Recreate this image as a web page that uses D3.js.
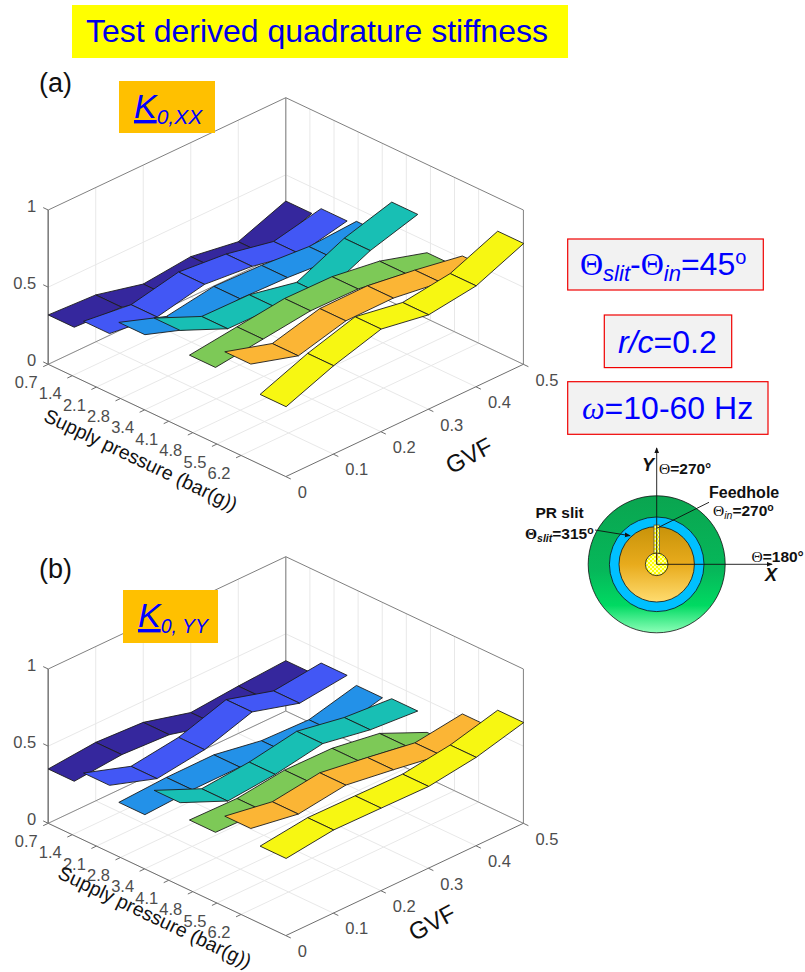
<!DOCTYPE html>
<html>
<head>
<meta charset="utf-8">
<script src="https://cdn.jsdelivr.net/npm/d3@7"></script>
<style>
    body { margin: 0; background: #fff; }
    text { font-family: "Liberation Sans", Arial, sans-serif; }
</style>
</head>
<body>
<div id="chart-container"></div>
<script>
const pressureTicks = ['0.7', '1.4', '2.1', '2.8', '3.4', '4.1', '4.8', '5.5', '6.2'];
const gvfTicks = [0, 0.1, 0.2, 0.3, 0.4, 0.5];
const zTicks = [0, 0.5, 1];
const ribbonColors = ['#35279d', '#4257f5', '#2391e8', '#18bfb4', '#7dc957', '#fbb535', '#f7f712'];

const kxx = [
    [0.320, 0.304, 0.229, 0.261, 0.212, 0.330],
    [0.387, 0.349, 0.415, 0.386, 0.322, 0.389],
    [0.488, 0.381, 0.430, 0.421, 0.397, 0.415],
    [0.624, 0.489, 0.484, 0.419, 0.559, 0.648],
    [0.492, 0.530, 0.568, 0.564, 0.519, 0.428],
    [0.622, 0.530, 0.611, 0.613, 0.569, 0.515],
    [0.454, 0.574, 0.666, 0.613, 0.655, 0.784]
];

// K0,YY
const kyy = [
    [0.352, 0.379, 0.363, 0.281, 0.307, 0.326],
    [0.434, 0.332, 0.374, 0.473, 0.384, 0.419],
    [0.352, 0.368, 0.369, 0.315, 0.305, 0.382],
    [0.538, 0.403, 0.430, 0.484, 0.428, 0.404],
    [0.454, 0.448, 0.486, 0.482, 0.433, 0.294],
    [0.587, 0.535, 0.577, 0.531, 0.480, 0.522],
    [0.501, 0.540, 0.536, 0.531, 0.574, 0.654]
];

const w = 805;
const h = 972;

const svg = d3.select('#chart-container')
    .append('svg')
    .attr('width', w)
    .attr('height', h)
    .style('display', 'block');

const defs = svg.append('defs');

// 3d axes scales, pressure axis is in tick positions and runs past the last tick
const pScale = d3.scaleLinear().domain([0, 9.857]).range([0, 1]);
const gScale = d3.scaleLinear().domain([0, 0.5]).range([0, 1]);
const zScale = d3.scaleLinear().domain([0, 1]).range([0, 154.3]);
const ribbonScale = d3.scalePoint().domain(d3.range(ribbonColors.length)).range([0, 8.79]);
const ribbonWidth = 1.08;

const halfW = 237.6;
const halfH = 112.3;

const drawPanel = (originY, values, labelX, labelY, gvfX, gvfY) => {
    const x0 = 48.2;
    const project = (p, g, z) => [
        x0 + halfW * (pScale(p) + gScale(g)),
        originY + halfH * (pScale(p) - gScale(g)) - zScale(z)
    ];
    const line = d3.line();
    const pMax = pScale.domain()[1];
    const gMax = gScale.domain()[1];
    const g = svg.append('g');

    const addLine = (pts, color, width) => g.append('path')
        .attr('d', line(pts))
        .attr('fill', 'none')
        .attr('stroke', color)
        .attr('stroke-width', width);

    // grid on floor and walls
    const grid = '#e8e8e8';
    pressureTicks.forEach((t, i) => {
        addLine([project(i, 0, 0), project(i, gMax, 0), project(i, gMax, 1)], grid, 1);
    });
    gvfTicks.forEach(v => {
        addLine([project(0, v, 0), project(pMax, v, 0)], grid, 1);
        addLine([project(0, v, 0), project(0, v, 1)], grid, 1);
    });
    addLine([project(0, 0, 0.5), project(0, gMax, 0.5), project(pMax, gMax, 0.5)], grid, 1);

    // box
    const box = '#808080';
    addLine([project(0, 0, 0), project(0, gMax, 0), project(pMax, gMax, 0)], '#8c8c8c', 1);
    addLine([project(0, gMax, 0), project(0, gMax, 1)], box, 1);
    addLine([project(0, 0, 1), project(0, gMax, 1), project(pMax, gMax, 1)], box, 1);
    addLine([project(pMax, gMax, 0), project(pMax, gMax, 1)], box, 1);
    addLine([project(0, 0, 0), project(0, 0, 1)], box, 1.6);
    addLine([project(0, 0, 0), project(pMax, 0, 0), project(pMax, gMax, 0)], '#6e6e6e', 1);

    // ticks
    pressureTicks.forEach((t, i) => {
        const a = project(i, 0, 0);
        addLine([a, [a[0] - 5, a[1] + 2.4]], '#6e6e6e', 1);
        g.append('text')
            .attr('x', a[0] - 22)
            .attr('y', a[1] + 23.5)
            .attr('text-anchor', 'middle')
            .attr('font-size', 16.5)
            .attr('fill', '#4d4d4d')
            .text(t);
    });
    gvfTicks.forEach(v => {
        const a = project(pMax, v, 0);
        addLine([a, [a[0] + 5, a[1] + 2.4]], '#6e6e6e', 1);
        g.append('text')
            .attr('x', a[0] + 12)
            .attr('y', a[1] + 21.3)
            .attr('font-size', 16.5)
            .attr('fill', '#4d4d4d')
            .text(v);
    });
    zTicks.forEach(v => {
        const a = project(0, 0, v);
        addLine([a, [a[0] - 5, a[1] - 2.4]], '#6e6e6e', 1);
        g.append('text')
            .attr('x', a[0] - 12)
            .attr('y', a[1] + 1.5)
            .attr('text-anchor', 'end')
            .attr('font-size', 16.5)
            .attr('fill', '#4d4d4d')
            .text(v);
    });

    // ribbons, back to front
    values.forEach((row, r) => {
        const p0 = ribbonScale(r);
        const p1 = p0 + ribbonWidth;
        for (let i = gvfTicks.length - 2; i >= 0; i--) {
            const quad = [
                project(p0, gvfTicks[i], row[i]),
                project(p1, gvfTicks[i], row[i]),
                project(p1, gvfTicks[i + 1], row[i + 1]),
                project(p0, gvfTicks[i + 1], row[i + 1])
            ];
            g.append('path')
                .attr('d', line(quad) + 'Z')
                .attr('fill', ribbonColors[r])
                .attr('stroke', '#1c1c1c')
                .attr('stroke-width', 0.9)
                .attr('stroke-linejoin', 'round');
        }
    });

    g.append('text')
        .attr('transform', `translate(${labelX},${labelY}) rotate(25.5)`)
        .attr('text-anchor', 'middle')
        .attr('font-size', 19.5)
        .attr('fill', '#111')
        .text('Supply pressure (bar(g))');

    g.append('text')
        .attr('transform', `translate(${gvfX},${gvfY}) rotate(-28)`)
        .attr('text-anchor', 'middle')
        .attr('font-size', 24)
        .attr('fill', '#111')
        .text('GVF');
};

drawPanel(364.3, kxx, 138, 466, 473, 463);
drawPanel(823.3, kyy, 152, 923, 436, 930);

// title and panel tags
svg.append('rect').attr('x', 72).attr('y', 5).attr('width', 496).attr('height', 53).attr('fill', '#ffff00');
svg.append('text').attr('x', 317).attr('y', 42).attr('text-anchor', 'middle')
    .attr('font-size', 32).attr('fill', '#0000e6')
    .text('Test derived quadrature stiffness');

svg.append('text').attr('x', 39).attr('y', 92).attr('font-size', 27).attr('fill', '#111').text('(a)');
svg.append('text').attr('x', 39).attr('y', 578).attr('font-size', 27).attr('fill', '#111').text('(b)');

const kTag = (x, y, bw, bh, sub, subSize) => {
    svg.append('rect').attr('x', x).attr('y', y).attr('width', bw).attr('height', bh).attr('fill', '#ffc000');
    const t = svg.append('text').attr('x', x + 15).attr('y', y + 37).attr('fill', '#0000ff').attr('font-style', 'italic');
    t.append('tspan').attr('font-size', 34).attr('text-decoration', 'underline').text('K');
    t.append('tspan').attr('font-size', subSize).attr('dy', 6).text(sub);
};
kTag(119, 81, 96, 52, '0,XX', 21);
kTag(123, 590, 95, 53, '0, YY', 19.5);

// parameter boxes
const paramBox = (x, y, bw, bh) => svg.append('rect')
    .attr('x', x).attr('y', y).attr('width', bw).attr('height', bh)
    .attr('fill', '#f2f2f2').attr('stroke', '#f00000').attr('stroke-width', 1.2);
const blueText = (x, y, size) => svg.append('text').attr('x', x).attr('y', y).attr('font-size', size).attr('fill', '#0000ff');
const serif = '"Liberation Serif", serif';

paramBox(567.7, 239, 195.6, 51);
let t1 = blueText(580, 275, 32);
t1.append('tspan').attr('font-family', serif).text('Θ');
t1.append('tspan').attr('font-size', 22).attr('font-style', 'italic').attr('dy', 6).text('slit');
t1.append('tspan').attr('dy', -6).text('-');
t1.append('tspan').attr('font-family', serif).text('Θ');
t1.append('tspan').attr('font-size', 22).attr('font-style', 'italic').attr('dy', 6).text('in');
t1.append('tspan').attr('dy', -6).text('=45');
t1.append('tspan').attr('font-size', 20).attr('dy', -11).text('o');

paramBox(604.3, 315, 127.4, 52.6);
let t2 = blueText(618, 353, 32);
t2.append('tspan').attr('font-style', 'italic').text('r/c');
t2.append('tspan').text('=0.2');

paramBox(567.7, 381.7, 200.3, 52.6);
let t3 = blueText(582, 419, 32);
t3.append('tspan').attr('font-family', serif).attr('font-style', 'italic').text('ω');
t3.append('tspan').text('=10-60 Hz');

// bearing schematic
const addGradient = (id, stops) => {
    const g = defs.append('linearGradient').attr('id', id)
        .attr('x1', 0).attr('y1', 0).attr('x2', 0).attr('y2', 1);
    stops.forEach(s => g.append('stop').attr('offset', s[0]).attr('stop-color', s[1]));
};
addGradient('greenGrad', [[0, '#0aa550'], [0.55, '#06b85a'], [0.8, '#00da62'], [1, '#8dffb8']]);
addGradient('orangeGrad', [[0, '#c8930a'], [0.5, '#e8ab1c'], [1, '#ffdc70']]);

const dots = defs.append('pattern').attr('id', 'dots').attr('width', 4).attr('height', 4)
    .attr('patternUnits', 'userSpaceOnUse');
dots.append('rect').attr('width', 4).attr('height', 4).attr('fill', '#ffff00');
dots.append('circle').attr('cx', 1).attr('cy', 1).attr('r', 1).attr('fill', '#ffffe0');
dots.append('circle').attr('cx', 3).attr('cy', 3).attr('r', 1).attr('fill', '#ffffe0');

const arrow = defs.append('marker').attr('id', 'arrow').attr('viewBox', '0 0 8 8')
    .attr('refX', 7).attr('refY', 4).attr('markerWidth', 6).attr('markerHeight', 6)
    .attr('markerUnits', 'userSpaceOnUse').attr('orient', 'auto');
arrow.append('path').attr('d', 'M0,0.8L8,4L0,7.2Z').attr('fill', '#111');

const cx = 656.7;
const cy = 564.3;
const disk = (r, fill) => svg.append('circle').attr('cx', cx).attr('cy', cy).attr('r', r)
    .attr('fill', fill).attr('stroke', '#111').attr('stroke-width', 0.8);
disk(68.5, 'url(#greenGrad)');
disk(47.3, '#00c0ff');
disk(37.7, 'url(#orangeGrad)');

svg.append('rect').attr('x', cx - 2.7).attr('y', 525).attr('width', 5.6).attr('height', 29)
    .attr('fill', 'url(#dots)').attr('stroke', '#555').attr('stroke-width', 0.8);
disk(11.3, 'url(#dots)');
svg.append('line').attr('x1', cx).attr('y1', 553).attr('x2', cx).attr('y2', 560)
    .attr('stroke', '#f04020').attr('stroke-width', 1);

const schemLine = (x1, y1, x2, y2, marked) => {
    const l = svg.append('line').attr('x1', x1).attr('y1', y1).attr('x2', x2).attr('y2', y2)
        .attr('stroke', '#111').attr('stroke-width', 0.9);
    if (marked) l.attr('marker-end', 'url(#arrow)');
};
schemLine(cx, cy, cx, 448, true);
schemLine(cx, cy, 772, cy, true);
schemLine(709, 502.3, cx, 528.3, false);
schemLine(595, 530, 630, 535.7, true);

const boldText = (x, y, size) => svg.append('text').attr('x', x).attr('y', y)
    .attr('font-size', size).attr('font-weight', 'bold').attr('fill', '#111');

boldText(642, 471, 18).attr('font-style', 'italic').text('Y');
let s1 = boldText(659, 474, 15.5);
s1.append('tspan').attr('font-family', serif).attr('font-weight', 'normal').text('Θ');
s1.append('tspan').text('=270°');
boldText(709, 497.7, 16).text('Feedhole');
let s2 = boldText(713, 515.7, 15.5);
s2.append('tspan').attr('font-family', serif).attr('font-weight', 'normal').text('Θ');
s2.append('tspan').attr('font-size', 10.5).attr('font-style', 'italic').attr('font-weight', 'normal').attr('dy', 3).text('in');
s2.append('tspan').attr('dy', -3).text('=270');
s2.append('tspan').attr('font-size', 10.5).attr('dy', -5).text('o');
boldText(535.5, 517.7, 15.5).text('PR slit');
let s3 = boldText(525, 539, 15.5);
s3.append('tspan').attr('font-family', serif).text('Θ');
s3.append('tspan').attr('font-size', 10.5).attr('font-style', 'italic').attr('dy', 3).text('slit');
s3.append('tspan').attr('dy', -3).text('=315');
s3.append('tspan').attr('font-size', 10.5).attr('dy', -5).text('o');
let s4 = boldText(751.5, 561.7, 15.5);
s4.append('tspan').attr('font-family', serif).attr('font-weight', 'normal').text('Θ');
s4.append('tspan').text('=180°');
boldText(765, 581, 18).attr('font-style', 'italic').text('X');
</script>
</body>
</html>
